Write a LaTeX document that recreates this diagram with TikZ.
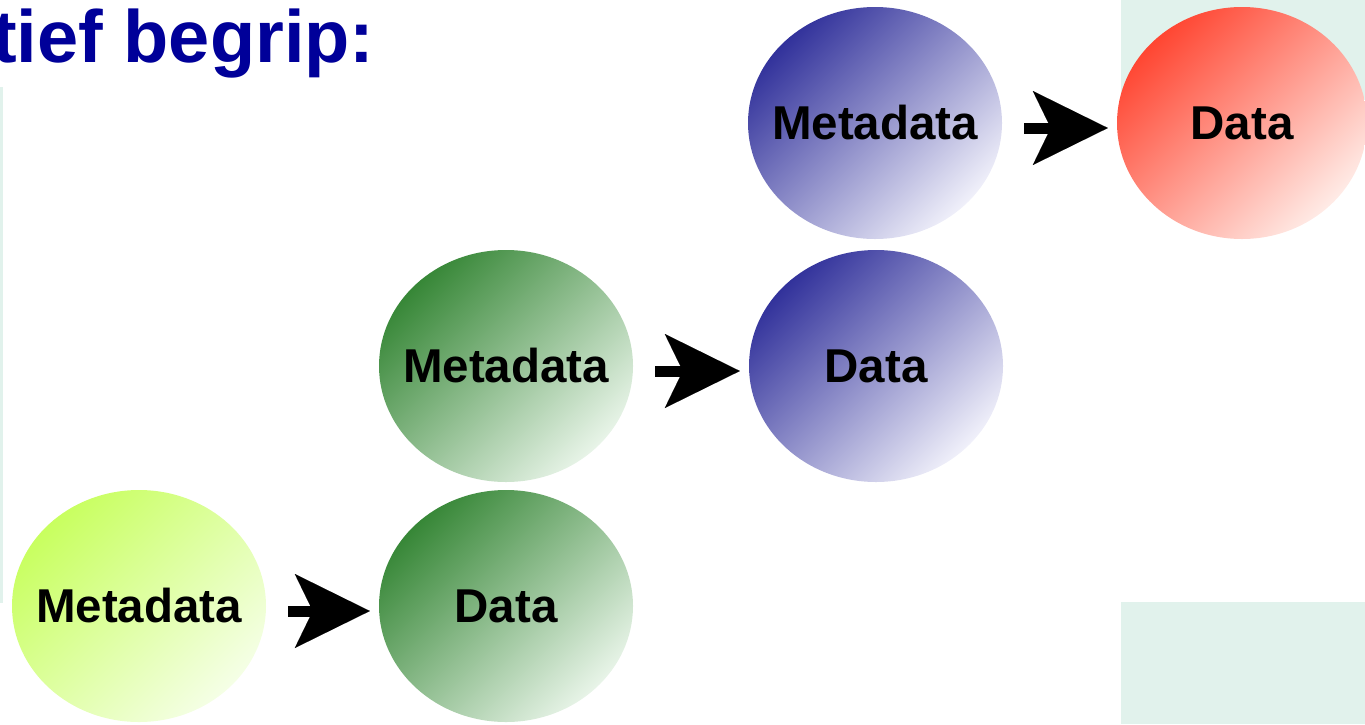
\documentclass[tikz,border=0pt]{standalone}
\usepackage{fontspec}
\setmainfont{Liberation Sans}
\usetikzlibrary{shapes.geometric,arrows.meta}
\definecolor{mint}{RGB}{225,242,236}
\definecolor{titleblue}{RGB}{0,0,153}
\definecolor{blueD}{RGB}{50,50,155}
\definecolor{blueL}{RGB}{240,240,250}
\definecolor{greenD}{RGB}{55,135,55}
\definecolor{greenL}{RGB}{232,244,232}
\definecolor{ygD}{RGB}{200,255,95}
\definecolor{ygL}{RGB}{245,255,230}
\definecolor{redD}{RGB}{255,70,50}
\definecolor{redL}{RGB}{255,235,230}
\newcommand\blobtext[1]{\makebox[0pt]{#1}}
\tikzset{
  blob/.style={ellipse, minimum width=254pt, minimum height=232pt, inner sep=0pt,
    font=\fontsize{47.5}{56}\selectfont\bfseries, text=black},
  shblue/.style={top color=blueD, bottom color=blueL, shading angle=45},
  shgreen/.style={top color=greenD, bottom color=greenL, shading angle=45},
  shyg/.style={top color=ygD, bottom color=ygL, shading angle=45},
  shred/.style={top color=redD, bottom color=redL, shading angle=45},
  bigarrow/.style={line width=11pt, draw=black,
    -{Stealth[length=75pt, width=74pt, inset=18pt, line width=0.01pt]}},
  bgbox/.style={fill=mint, draw=none}
}
\begin{document}
\begin{tikzpicture}[x=1pt,y=-1pt]
\useasboundingbox (0,0) rectangle (1365,724);
% background panels
\fill[bgbox] (1121,0) rectangle (1365,100);
\fill[bgbox] (1121,602) rectangle (1365,724);
\fill[bgbox] (0,87) rectangle (3,603);
% title
\node[anchor=base west, inner sep=0pt, text=titleblue,
  font=\fontsize{74}{88}\selectfont\bfseries] (title) at (-8,62) {tief begrip:};
% circles
\node[blob, shyg]    (bm) at (139,606) {\blobtext{Metadata}};
\node[blob, shgreen] (bd) at (506,606) {\blobtext{Data}};
\node[blob, shgreen] (mm) at (506,366) {\blobtext{Metadata}};
\node[blob, shblue]  (md) at (876,366) {\blobtext{Data}};
\node[blob, shblue]  (tm) at (875,123) {\blobtext{Metadata}};
\node[blob, shred, minimum width=250pt] (td) at (1242,123) {\blobtext{Data}};
% arrows
\draw[bigarrow] ([shift={(22,5)}]bm.east) -- ([shift={(-9,5)}]bd.west);
\draw[bigarrow] ([shift={(22,5)}]mm.east) -- ([shift={(-9,5)}]md.west);
\draw[bigarrow] ([shift={(22,5)}]tm.east) -- ([shift={(-9,5)}]td.west);
\end{tikzpicture}
\end{document}
